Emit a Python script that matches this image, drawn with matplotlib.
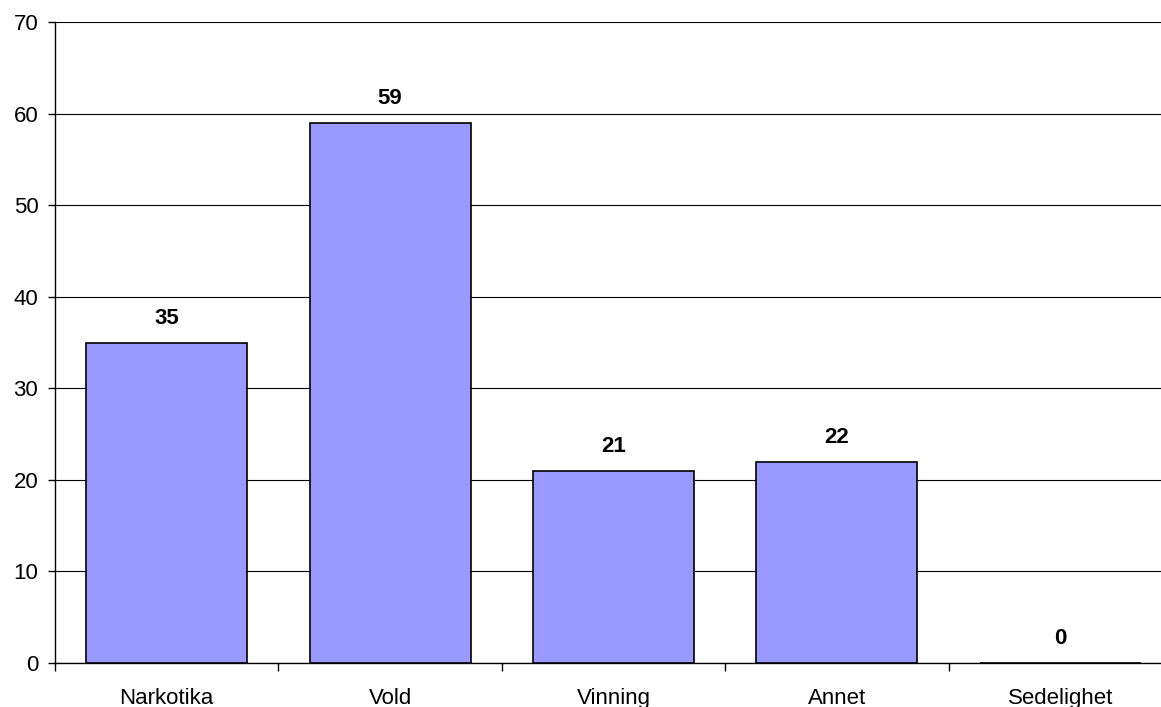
import matplotlib.pyplot as plt
import numpy as np

plt.rcParams['font.family'] = ['Liberation Sans', 'DejaVu Sans']

categories = ['Narkotika', 'Vold', 'Vinning', 'Annet', 'Sedelighet']
values = [35, 59, 21, 22, 0]

fig = plt.figure(figsize=(11.61, 7.07), dpi=100)
ax = fig.add_axes([55 / 1161, 1 - 663 / 707, 1117 / 1161, (663 - 22) / 707])

x = np.arange(len(categories))
ax.bar(x, values, width=0.72, color='#9999FF', edgecolor='black', linewidth=1.2, zorder=3)

for xi, v in zip(x, values):
    ax.annotate(str(v), (xi, v), xytext=(0, 10), textcoords='offset points',
                ha='center', va='bottom', fontsize=16, fontweight='bold')

ax.set_xlim(-0.5, len(categories) - 0.5)
ax.set_ylim(0, 70)
ax.set_yticks(range(0, 71, 10))
ax.yaxis.grid(True, color='black', linewidth=0.8)
ax.set_axisbelow(True)

# category labels centered, ticks at boundaries
ax.set_xticks(x)
ax.set_xticklabels(categories, fontsize=16)
ax.tick_params(axis='x', length=0, pad=18)
ax.set_xticks(np.arange(-0.5, len(categories), 1), minor=True)
ax.tick_params(axis='x', which='minor', length=6, width=1, direction='out')
ax.tick_params(axis='y', length=5, width=1, labelsize=16, pad=7)

for s in ['top', 'right']:
    ax.spines[s].set_visible(False)
ax.spines['left'].set_linewidth(1)
ax.spines['bottom'].set_linewidth(1)

fig.savefig('out.png', dpi=100)
